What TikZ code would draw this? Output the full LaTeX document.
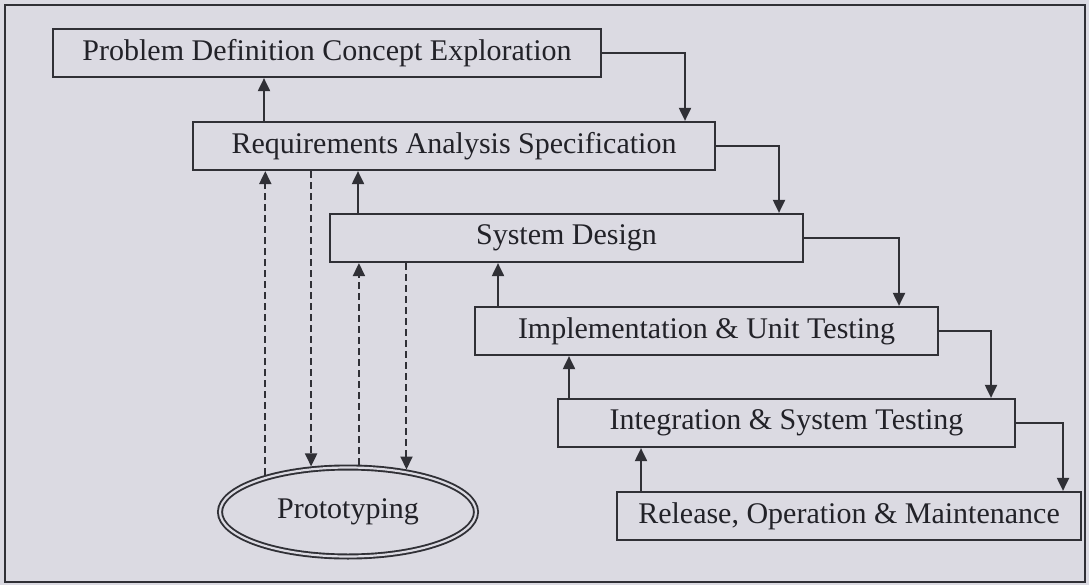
\documentclass[tikz,border=0pt]{standalone}
\usepackage{fontspec}
\setmainfont{Liberation Serif}
\usetikzlibrary{arrows.meta,shapes.geometric}
\definecolor{paper}{RGB}{219,218,226}
\definecolor{ink}{RGB}{48,48,54}
\definecolor{txt}{RGB}{34,34,40}
\tikzset{
  stage/.style={draw=ink, line width=2.2pt, minimum height=48pt, inner sep=0pt,
    text=txt, font=\fontsize{30}{32}\selectfont},
  flow/.style={draw=ink, line width=2pt, -{Triangle[length=13pt,width=12pt]}},
  proto/.style={flow, dash pattern=on 7pt off 4pt},
  frame/.style={draw=ink, line width=2.2pt}
}
\begin{document}
\begin{tikzpicture}[x=1pt,y=-1pt]
  \useasboundingbox (0,0) rectangle (1089,585);
  \fill[paper] (0,0) rectangle (1089,585);
  \draw[frame] (5,5) rectangle (1085,582);

  % waterfall stages
  \node[stage, minimum width=548pt] (b1) at (327,53)   {Problem Definition Concept Exploration};
  \node[stage, minimum width=522pt] (b2) at (454,146)  {Requirements Analysis Specification};
  \node[stage, minimum width=473pt] (b3) at (566.5,238) {System Design};
  \node[stage, minimum width=463pt] (b4) at (706.5,331) {Implementation \& Unit Testing};
  \node[stage, minimum width=457pt] (b5) at (786.5,423) {Integration \& System Testing};
  \node[stage, minimum width=464pt] (b6) at (849,516)  {Release, Operation \& Maintenance};

  % prototyping loop
  \node[ellipse, draw=ink, line width=1.9pt, double=paper, double distance=2.2pt,
        minimum width=256pt, minimum height=89pt, inner sep=0pt, outer sep=3pt,
        text=txt, font=\fontsize{30}{32}\selectfont] (pr) at (348,512) {Prototyping};

  % forward flow down the cascade
  \draw[flow] (b1.east) -| (b2.north -| 685,0);
  \draw[flow] (b2.east) -| (b3.north -| 779,0);
  \draw[flow] (b3.east) -| (b4.north -| 899,0);
  \draw[flow] (b4.east) -| (b5.north -| 991,0);
  \draw[flow] (b5.east) -| (b6.north -| 1063,0);

  % feedback to the previous stage
  \draw[flow] (b2.north -| 264,0) -- (b1.south -| 264,0);
  \draw[flow] (b3.north -| 358,0) -- (b2.south -| 358,0);
  \draw[flow] (b4.north -| 498,0) -- (b3.south -| 498,0);
  \draw[flow] (b5.north -| 569,0) -- (b4.south -| 569,0);
  \draw[flow] (b6.north -| 641,0) -- (b5.south -| 641,0);

  % exchanges with prototyping
  \draw[proto] (pr.156.3) -- (b2.south -| pr.156.3);
  \draw[proto] (b2.south -| pr.129.4) -- (pr.129.4);
  \draw[proto] (pr.77.9) -- (b3.south -| pr.77.9);
  \draw[proto] (b3.south -| pr.36.6) -- (pr.36.6);
\end{tikzpicture}
\end{document}
